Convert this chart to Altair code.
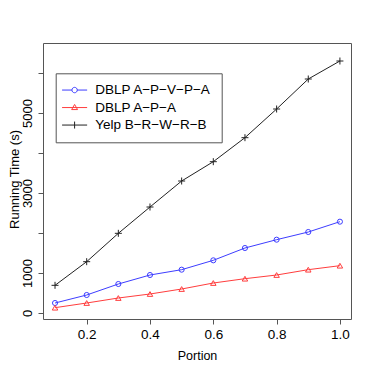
import altair as alt
import pandas as pd

# ---- data ----
portion = [0.1, 0.2, 0.3, 0.4, 0.5, 0.6, 0.7, 0.8, 0.9, 1.0]
series_names = ["DBLP A\u2212P\u2212V\u2212P\u2212A", "DBLP A\u2212P\u2212A", "Yelp B\u2212R\u2212W\u2212R\u2212B"]
dblp_apvpa = [250, 450, 725, 950, 1083, 1317, 1625, 1833, 2025, 2283]
dblp_apa = [133, 250, 375, 475, 600, 750, 858, 950, 1083, 1183]
yelp_brwrb = [692, 1283, 1992, 2650, 3300, 3783, 4383, 5100, 5850, 6300]

x_ticks = [0.2, 0.4, 0.6, 0.8, 1.0]
y_ticks = [0, 1000, 2000, 3000, 4000, 5000, 6000]
y_labelled = [0, 1000, 3000, 5000]

series_colors = ["#3d3dff", "#ff3d3d", "#222222"]
plot_shapes = ["circle", "triangle-up", "M-1,0L1,0M0,-1L0,1"]
plot_sizes = [26, 30, 49]
sh = 0.8
legend_shapes = [
    f"M{-4.65+sh},0L{-1+sh},0M{1+sh},0L{4.65+sh},0M{-1+sh},0A1,1,0,1,0,{1+sh},0A1,1,0,1,0,{-1+sh},0",
    f"M{-4.65+sh},0L{4.65+sh},0M{sh},-1.15L{1.1+sh},0.75L{-1.1+sh},0.75Z",
    f"M{-4.65+sh},0L{4.65+sh},0M{sh},-1.3L{sh},1.3",
]

rows = []
for name, vals in zip(series_names, [dblp_apvpa, dblp_apa, yelp_brwrb]):
    for p, v in zip(portion, vals):
        rows.append({"Portion": p, "Time": v, "Series": name})
df = pd.DataFrame(rows)

FONT = "Liberation Sans"

x = alt.X(
    "Portion:Q",
    scale=alt.Scale(domain=[0.062, 1.035], nice=False, zero=False),
    axis=alt.Axis(
        values=x_ticks, format=".1f", title="Portion", grid=False, domain=False,
        tickSize=5, tickColor="#555555", labelFontSize=13.5, labelFont=FONT,
        labelColor="black", labelPadding=3, titleFont=FONT, titleFontSize=12.5,
        titleFontWeight="normal", titleColor="black", titleY=40, titleX=154,
        titleBaseline="alphabetic", labelFlush=False,
    ),
)
y = alt.Y(
    "Time:Q",
    scale=alt.Scale(domain=[-150, 6750], nice=False, zero=False),
    axis=alt.Axis(
        values=y_ticks, format="d", title="Running Time (s)", grid=False, domain=False,
        labelExpr="indexof(" + str(y_labelled) + ", datum.value) >= 0 ? datum.label : ''",
        tickSize=5, tickColor="#555555", labelFontSize=13, labelFont=FONT,
        labelColor="black", labelAngle=270, labelAlign="center", labelBaseline="alphabetic",
        labelPadding=7, titleFont=FONT, titleFontSize=13, titleFontWeight="normal",
        titleColor="black", titleAngle=270, titleAlign="center", titleBaseline="alphabetic",
        titleX=-24.5, titleY=136, labelFlush=False,
    ),
)

layers = []
for name, col in zip(series_names, series_colors):
    layers.append(
        alt.Chart(df)
        .transform_filter(alt.datum.Series == name)
        .mark_line(strokeWidth=1, color=col)
        .encode(x=x, y=y)
    )
for name, col, shp, sz in zip(series_names, series_colors, plot_shapes, plot_sizes):
    layers.append(
        alt.Chart(df)
        .transform_filter(alt.datum.Series == name)
        .mark_point(filled=False, strokeWidth=1, opacity=1, shape=shp, size=sz, color=col)
        .encode(x=x, y=y)
    )

legend_def = dict(
    title=None, orient="none", legendX=12.7, legendY=30.3, padding=10,
    strokeColor="#555555", fillColor="white", labelFont=FONT, labelFontSize=13.5,
    labelColor="black", symbolOpacity=1, symbolStrokeWidth=1, symbolSize=29,
    symbolFillColor="transparent", labelOffset=16, rowPadding=2.5, labelLimit=300,
)
legend_layer = alt.Chart(df).mark_point(filled=False, opacity=0, size=29).encode(
    x=x, y=y,
    color=alt.Color("Series:N", scale=alt.Scale(domain=series_names, range=series_colors),
                    legend=alt.Legend(**legend_def)),
    shape=alt.Shape("Series:N", scale=alt.Scale(domain=series_names, range=legend_shapes),
                    legend=alt.Legend(**legend_def)),
)
layers.append(legend_layer)

chart = (
    alt.layer(*layers)
    .properties(
        width=308, height=276,
        padding={"left": 35, "top": 35, "right": 15, "bottom": 47},
        autosize=alt.AutoSizeParams(type="none"),
        background="white",
    )
    .configure_view(stroke="#555555", strokeWidth=1, fill="white")
)

chart.save("out.html", embed_options={"renderer": "svg", "actions": False})
